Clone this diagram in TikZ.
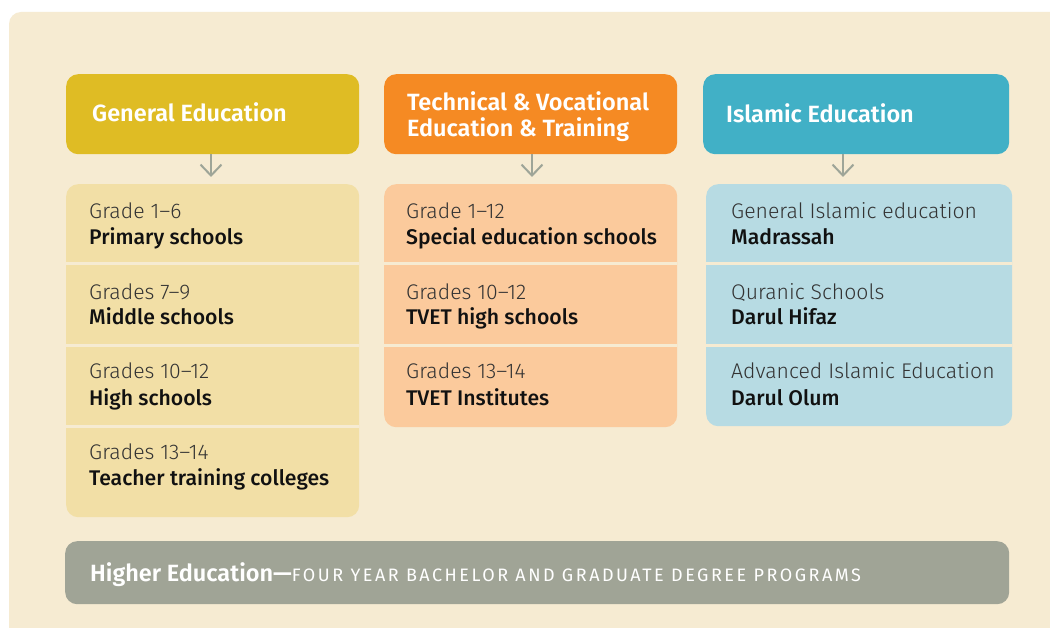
\documentclass[tikz,border=0pt]{standalone}
\usepackage{fontspec}
\usetikzlibrary{arrows.meta}
\setmainfont{Fira Sans}
\newfontfamily\lightfont{Fira Sans Light}
\newfontfamily\medfont{Fira Sans Medium}
\newfontfamily\semifont{Fira Sans SemiBold}
\definecolor{panel}{HTML}{F6EBD2}
\definecolor{genhead}{HTML}{DFBC24}
\definecolor{tvethead}{HTML}{F58A23}
\definecolor{islhead}{HTML}{41B0C6}
\definecolor{genrow}{HTML}{F2DFA6}
\definecolor{tvetrow}{HTML}{FBCA9C}
\definecolor{islrow}{HTML}{B7DBE3}
\definecolor{higher}{HTML}{A0A496}
\definecolor{arrowgray}{HTML}{9EA598}
\definecolor{gradetext}{HTML}{333333}
\definecolor{schooltext}{HTML}{111111}
\tikzset{
  header/.style={rounded corners=12pt, inner sep=0pt, anchor=north west},
  column/.style={rounded corners=12pt, inner sep=0pt, anchor=north west},
  headtext/.style={anchor=base west, inner sep=0pt, text=white,
    font=\semifont\fontsize{23.5}{28}\selectfont},
  gradelabel/.style={anchor=base west, inner sep=0pt, text=gradetext,
    font=\lightfont\fontsize{21.2}{25}\selectfont},
  schoollabel/.style={anchor=base west, inner sep=0pt, text=schooltext,
    font=\medfont\fontsize{21.2}{25}\selectfont},
  divider/.style={draw=panel, line width=3pt},
  flow/.style={draw=arrowgray, line width=2pt,
    -{Straight Barb[length=11pt, width=21pt]}, shorten >=7pt}
}
\begin{document}
\begin{tikzpicture}[x=1pt, y=-1pt]
\useasboundingbox (0,0) rectangle (1050,628);
\clip (0,0) rectangle (1050,628);
% page and cream panel
\fill[white] (0,0) rectangle (1050,628);
\fill[panel, rounded corners=12pt] (9,12) rectangle (1080,660);

% column headers
\node[header, fill=genhead, minimum width=293pt, minimum height=80pt] (hgen) at (66,74) {};
\node[header, fill=tvethead, minimum width=293pt, minimum height=80pt] (htvet) at (384,74) {};
\node[header, fill=islhead, minimum width=306pt, minimum height=80pt] (hisl) at (703,74) {};
\node[headtext] (tgen) at (92,122) {General Education};
\node[headtext] (ttvet) at (407,111) {Technical \& Vocational};
\node[headtext] (ttvetb) at (407,137) {Education \& Training};
\node[headtext] (tisl) at (726,123) {Islamic Education};

% column bodies
\node[column, fill=genrow, minimum width=293pt, minimum height=333pt] (cgen) at (66,184) {};
\node[column, fill=tvetrow, minimum width=293pt, minimum height=243pt] (ctvet) at (384,184) {};
\node[column, fill=islrow, minimum width=306pt, minimum height=242pt] (cisl) at (706,184) {};

% row dividers
\foreach \y in {263.5,345.5,426.5} \draw[divider] (cgen.west |- 0,\y) -- (cgen.east |- 0,\y);
\foreach \y in {263.5,345.5} \draw[divider] (ctvet.west |- 0,\y) -- (ctvet.east |- 0,\y);
\foreach \y in {263.5,345.5} \draw[divider] (cisl.west |- 0,\y) -- (cisl.east |- 0,\y);

% arrows from headers to columns
\coordinate (agen) at (211,154);
\coordinate (atvet) at (532,154);
\coordinate (aisl) at (843,154);
\draw[flow] (agen) -- (agen |- cgen.north);
\draw[flow] (atvet) -- (atvet |- ctvet.north);
\draw[flow] (aisl) -- (aisl |- cisl.north);

% general education rows
\node[gradelabel] (g1) at (89,219) {Grade 1–6};
\node[schoollabel] (s1) at (89,245) {Primary schools};
\node[gradelabel] (g2) at (89,300) {Grades 7–9};
\node[schoollabel] (s2) at (89,325) {Middle schools};
\node[gradelabel] (g3) at (89,379) {Grades 10–12};
\node[schoollabel] (s3) at (89,405) {High schools};
\node[gradelabel] (g4) at (89,459) {Grades 13–14};
\node[schoollabel] (s4) at (89,485) {Teacher training colleges};

% technical and vocational rows
\node[gradelabel] (v1) at (406,219) {Grade 1–12};
\node[schoollabel] (w1) at (406,245) {Special education schools};
\node[gradelabel] (v2) at (406,300) {Grades 10–12};
\node[schoollabel] (w2) at (406,325) {TVET high schools};
\node[gradelabel] (v3) at (406,379) {Grades 13–14};
\node[schoollabel] (w3) at (406,405) {TVET Institutes};

% islamic education rows
\node[gradelabel] (i1) at (731,219) {General Islamic education};
\node[schoollabel] (j1) at (731,245) {Madrassah};
\node[gradelabel] (i2) at (731,300) {Quranic Schools};
\node[schoollabel] (j2) at (731,325) {Darul Hifaz};
\node[gradelabel] (i3) at (731,379) {Advanced Islamic Education};
\node[schoollabel] (j3) at (731,405) {Darul Olum};

% higher education bar
\node[header, fill=higher, minimum width=944pt, minimum height=63pt] (hhigh) at (65,541) {};
\node[anchor=base west, inner sep=0pt, text=white] (thigh) at (90,581)
  {{\semifont\fontsize{23.5}{28}\selectfont Higher Education—}{\fontsize{18}{21}\selectfont\addfontfeatures{LetterSpace=14}FOUR YEAR BACHELOR AND GRADUATE DEGREE PROGRAMS}};
\end{tikzpicture}
\end{document}
